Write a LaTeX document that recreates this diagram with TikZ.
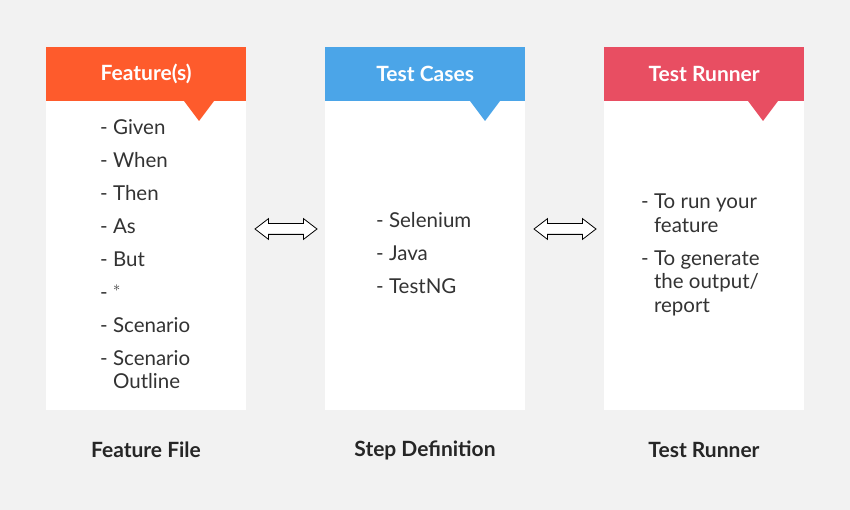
\documentclass[tikz,border=0pt]{standalone}
\usepackage{fontspec}
\setmainfont{Lato}
\usetikzlibrary{shapes.arrows}
\definecolor{pagebg}{HTML}{F2F2F2}
\definecolor{featorange}{HTML}{FE5B2C}
\definecolor{caseblue}{HTML}{4BA5E8}
\definecolor{runnerred}{HTML}{E84E62}
\definecolor{itemgray}{HTML}{333333}

\begin{document}
\begin{tikzpicture}[x=1pt,y=-1pt,
  body/.style={fill=white,minimum width=200,minimum height=309,anchor=north west,inner sep=0},
  head/.style={fill=#1,minimum width=200,minimum height=54,anchor=north west,inner sep=0,text=white,font=\bfseries\fontsize{21}{24}\selectfont},
  items/.style={anchor=north west,align=left,inner sep=0,text=itemgray,font=\fontsize{20.5}{23.5}\selectfont},
  caption/.style={font=\bfseries\fontsize{21}{24}\selectfont,text=black!85},
  dblarrow/.style={double arrow,draw=black,fill=white,line width=0.8pt,minimum height=62,minimum width=20,inner sep=5pt,double arrow head extend=5pt,double arrow tip angle=75}
]
\fill[pagebg] (0,0) rectangle (850,510);
\useasboundingbox (0,0) rectangle (850,510);

\node[body] (featbody) at (46,101) {};
\node[body] (casebody) at (325,101) {};
\node[body] (runbody) at (604,101) {};

\node[head=featorange] (feathead) at (46,47) {Feature(s)};
\node[head=caseblue] (casehead) at (325,47) {Test Cases};
\node[head=runnerred] (runhead) at (604,47) {Test Runner};
\fill[featorange] (184,101) -- (214,101) -- (199,121) -- cycle;
\fill[caseblue] (470,101) -- (500,101) -- (485,121) -- cycle;
\fill[runnerred] (748,101) -- (778,101) -- (763,121) -- cycle;

\node[items] (featitems) at (100,119) {- Given\\[9.5pt]- When\\[9.5pt]- Then\\[9.5pt]- As\\[9.5pt]- But\\[9.5pt]- $^*$\\[9.5pt]- Scenario\\[9.5pt]- Scenario\\\phantom{- }Outline};
\node[items] (caseitems) at (376,212) {- Selenium\\[9.5pt]- Java\\[9.5pt]- TestNG};
\node[items] (runitems) at (641,194) {- To run your\\\phantom{- }feature\\[9.5pt]- To generate\\\phantom{- }the output/\\\phantom{- }report};

\node[dblarrow] (arrowA) at (286,229) {};
\node[dblarrow] (arrowB) at (565,229) {};

\node[caption] (featcap) at (146,450) {Feature File};
\node[caption] (casecap) at (425,450) {Step Definition};
\node[caption] (runcap) at (704,450) {Test Runner};
\end{tikzpicture}
\end{document}
